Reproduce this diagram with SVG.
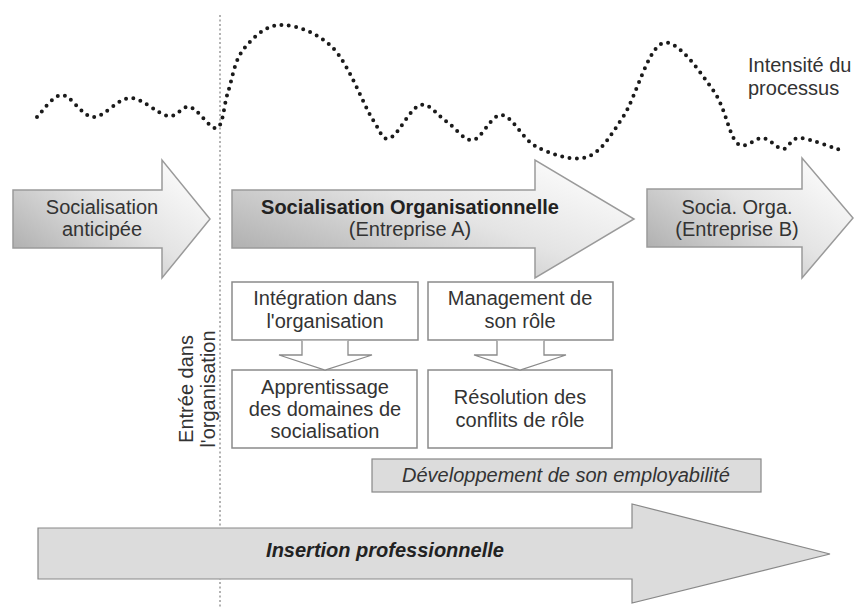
<svg xmlns="http://www.w3.org/2000/svg" width="855" height="609" viewBox="0 0 855 609">
<defs>
<linearGradient id="grad" x1="0" y1="0.9" x2="1" y2="0.1">
<stop offset="0" stop-color="#a8a8a8"/>
<stop offset="0.55" stop-color="#e4e4e4"/>
<stop offset="1" stop-color="#ffffff"/>
</linearGradient>
<style>
text{font-family:"Liberation Sans",Arial,sans-serif;font-size:20px;fill:#333;text-anchor:middle}
.bold{font-weight:bold;fill:#222}
.it{font-style:italic}
.bit{font-style:italic;font-weight:bold;fill:#222}
.big{fill:url(#grad);stroke:#9a9a9a;stroke-width:1.5}
.box{fill:#fff;stroke:#8a8a8a;stroke-width:1.5}
.band{fill:#dcdcdc;stroke:#888;stroke-width:1.2}
.conn{fill:#fff;stroke:#8a8a8a;stroke-width:1.3}
</style>
</defs>
<rect width="855" height="609" fill="#fff"/>

<line x1="220" y1="15" x2="220" y2="609" stroke="#666" stroke-width="1" stroke-dasharray="2 2.5"/>

<path id="intensity-curve" fill="none" stroke="#1a1a1a" stroke-width="4" stroke-linecap="round" stroke-dasharray="0 7.4"
d="M37,117 C41.2,113.3 52.7,95 62,95 C71.3,95 81.7,116.5 93,117 C104.3,117.5 117.5,98.2 130,98 C142.5,97.8 158,114.5 168,116 C178,117.5 181.8,105 190,107 C198.2,109 210.7,130.5 217,128 C223.3,125.5 223.7,105 228,92 C232.3,79 234.3,61.2 243,50 C251.7,38.8 265,25.3 280,25 C295,24.7 317.5,32.2 333,48 C348.5,63.8 363.5,105 373,120 C382.5,135 382.2,140.5 390,138 C397.8,135.5 410.5,107.7 420,105 C429.5,102.3 438.2,116.2 447,122 C455.8,127.8 463.8,141.2 473,140 C482.2,138.8 491.3,113.8 502,115 C512.7,116.2 522.8,140 537,147 C551.2,154 572.7,162 587,157 C601.3,152 610.3,136 623,117 C635.7,98 648,47.5 663,43 C678,38.5 700.7,73.3 713,90 C725.3,106.7 728.7,135 737,143 C745.3,151 755.3,137 763,138 C770.7,139 776.8,149 783,149 C789.2,149 790,137.7 800,138 C810,138.3 835.8,148.8 843,151"/>

<g id="intensity-label">
<text x="748" y="72" style="text-anchor:start">Intensité du</text>
<text x="748" y="95" style="text-anchor:start">processus</text>
</g>

<g id="socialisation-anticipee">
<path class="big" d="M13,190 H162 V160 L210,219 L162,278 V248 H13 Z"/>
<text x="102" y="214">Socialisation</text>
<text x="102" y="236">anticipée</text>
</g>

<g id="socialisation-organisationnelle">
<path class="big" d="M232,190 H535 V160 L634,219 L535,278 V248 H232 Z"/>
<text class="bold" x="410" y="214">Socialisation Organisationnelle</text>
<text x="410" y="236">(Entreprise A)</text>
</g>

<g id="socia-orga-b">
<path class="big" d="M647,189 H802 V158 L853,218 L802,278 V247 H647 Z"/>
<text x="737" y="214">Socia. Orga.</text>
<text x="737" y="236">(Entreprise B)</text>
</g>

<g id="entree-organisation">
<text transform="translate(193,389) rotate(-90)">Entrée dans</text>
<text transform="translate(215,389) rotate(-90)">l'organisation</text>
</g>

<g id="integration">
<rect class="box" x="232" y="282" width="186" height="58"/>
<text x="325" y="305">Intégration dans</text>
<text x="325" y="328">l'organisation</text>
</g>

<g id="apprentissage">
<rect class="box" x="232" y="370" width="185" height="78"/>
<text x="325" y="394">Apprentissage</text>
<text x="325" y="416">des domaines de</text>
<text x="325" y="438">socialisation</text>
</g>

<g id="management">
<rect class="box" x="428" y="282" width="185" height="58"/>
<text x="520" y="305">Management de</text>
<text x="520" y="328">son rôle</text>
</g>

<g id="resolution">
<rect class="box" x="428" y="370" width="184" height="78"/>
<text x="520" y="404">Résolution des</text>
<text x="520" y="427">conflits de rôle</text>
</g>

<g id="connectors">
<path class="conn" d="M302,340.8 V355 H279 L325,370 L372,355 H348 V340.8"/>
<path class="conn" d="M497,340.8 V355 H474 L520,370 L566,355 H544 V340.8"/>
</g>

<g id="employabilite">
<rect class="band" x="372" y="459" width="389" height="33"/>
<text class="it" x="566" y="482">Développement de son employabilité</text>
</g>

<g id="insertion">
<path class="band" d="M38,528 H632 V504 L830,554 L632,603 V579 H38 Z"/>
<text class="bit" x="385" y="557">Insertion professionnelle</text>
</g>
</svg>
